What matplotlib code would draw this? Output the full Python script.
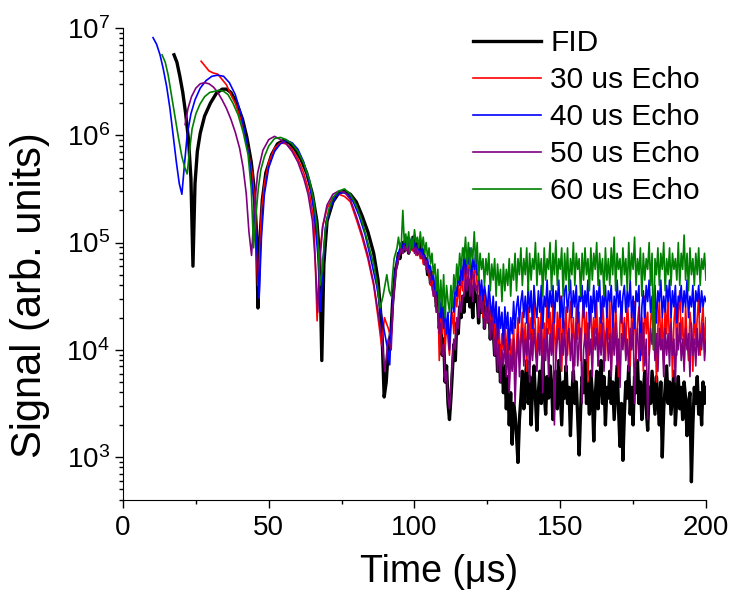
import numpy as np
import matplotlib
matplotlib.use("Agg")
import matplotlib.pyplot as plt
from matplotlib.ticker import LogLocator, MultipleLocator, NullFormatter

plt.rcParams['font.family'] = ['Liberation Sans', 'DejaVu Sans']
plt.rcParams['mathtext.fontset'] = 'custom'
plt.rcParams['mathtext.rm'] = 'Liberation Sans'
plt.rcParams['mathtext.default'] = 'regular'

# signal values are stored as log10(signal)

# early, smooth part of each trace
fid_t = [17.5, 18.5, 19.5, 20.5, 21.5, 22.5, 23.3, 24.0, 24.7, 25.5,
         26.5, 28, 30, 32, 34, 35.5, 37, 39, 41, 42.5,
         44, 45, 45.8, 46.3, 46.9, 47.8, 49, 51, 53, 55,
         57, 59, 61, 63, 65, 66.5, 67.5, 68.2, 68.9, 70,
         72, 74, 76, 78, 80, 82, 84, 86, 87.5, 88.8,
         89.6, 90.3, 91]
fid_log = [6.75, 6.68, 6.55, 6.4, 6.2, 5.95, 5.6, 4.78, 5.55, 5.85,
           6.02, 6.18, 6.3, 6.39, 6.43, 6.43, 6.4, 6.3, 6.15, 5.98,
           5.75, 5.5, 5.1, 4.39, 5.0, 5.4, 5.65, 5.82, 5.92, 5.95,
           5.93, 5.87, 5.78, 5.65, 5.45, 5.2, 4.85, 3.9, 4.8, 5.2,
           5.38, 5.46, 5.48, 5.45, 5.38, 5.25, 5.1, 4.9, 4.65, 4.2,
           3.56, 3.7, 4.0]

e30_t = [26.8, 28, 29.5, 31, 32.5, 34, 35.5, 37, 38.5, 40,
         41.5, 43, 44.3, 45.3, 46.2, 46.8, 47.5, 48.5, 50, 52,
         54, 56, 58, 60, 62, 64, 65.5, 66.6, 67.5, 68.5,
         70, 72, 74, 76, 78, 80, 82, 84, 86, 87.5,
         88.7, 89.7, 91]
e30_log = [6.69, 6.65, 6.6, 6.58, 6.57, 6.52, 6.47, 6.38, 6.3, 6.18,
           6.05, 5.85, 5.65, 5.35, 4.6, 4.85, 5.3, 5.55, 5.75, 5.88,
           5.93, 5.92, 5.87, 5.78, 5.65, 5.45, 5.2, 4.27, 4.9, 5.15,
           5.32, 5.42, 5.45, 5.43, 5.38, 5.22, 5.05, 4.85, 4.6, 4.3,
           4.04, 4.3, 4.2]

e40_t = [10.3, 11.5, 12.7, 13.8, 15, 16.1, 17.2, 18.3, 19.3, 20.2,
         21, 22, 23.3, 24.7, 26.5, 28.5, 30.5, 32.5, 34.5, 36.5,
         38.5, 40.5, 42, 43.5, 44.8, 45.8, 46.7, 47.5, 48.5, 50,
         52, 54, 56, 58, 60, 62, 64, 65.5, 66.8, 67.8,
         68.6, 69.5, 71, 73, 75, 77, 79, 81, 83, 85,
         87, 88.5, 89.8, 90.8, 91.5]
e40_log = [6.91, 6.85, 6.75, 6.62, 6.45, 6.25, 6.0, 5.75, 5.55, 5.45,
           5.7, 6.0, 6.2, 6.33, 6.44, 6.51, 6.55, 6.56, 6.55, 6.49,
           6.38, 6.2, 6.0, 5.75, 5.4, 5.0, 4.48, 5.05, 5.45, 5.7,
           5.85, 5.92, 5.95, 5.93, 5.87, 5.75, 5.55, 5.3, 4.9, 4.36,
           4.8, 5.15, 5.32, 5.43, 5.47, 5.45, 5.38, 5.25, 5.08, 4.85,
           4.6, 4.35, 4.15, 4.0, 3.86]

e50_t = [21.3, 22.3, 23.5, 25, 26.5, 28, 29.5, 31, 32.5, 34,
         35.5, 37, 38.5, 40, 41.2, 42.3, 43.2, 44.1, 45, 46.2,
         48, 50, 52, 54, 56, 58, 60, 62, 63.5, 65,
         66, 66.8, 67.6, 68.5, 70, 72, 74, 76, 78, 80,
         82, 84, 86, 87.5, 88.8, 89.8, 91]
e50_log = [6.1, 6.25, 6.36, 6.44, 6.48, 6.49, 6.48, 6.45, 6.4, 6.33,
           6.25, 6.15, 6.03, 5.88, 5.7, 5.45, 5.1, 4.88, 5.3, 5.65,
           5.86, 5.96, 5.99, 5.96, 5.92, 5.85, 5.75, 5.6, 5.45, 5.2,
           4.8, 4.35, 4.85, 5.15, 5.35, 5.45, 5.48, 5.47, 5.4, 5.25,
           5.08, 4.88, 4.62, 4.35, 4.1, 3.8, 4.1]

e60_t = [13.4, 14.5, 15.5, 16.6, 17.8, 19, 20.2, 21.2, 22, 22.8,
         23.7, 25, 26.4, 28, 29.8, 31.5, 33, 34.5, 36, 37.7,
         39.5, 41.2, 42.9, 44, 44.8, 45.6, 46.4, 47.3, 48.5, 50,
         52, 54, 56, 58, 60, 62, 64, 65.5, 66.7, 67.6,
         68.4, 69.3, 70.5, 72, 74, 76, 78, 80, 82, 84,
         86, 87.3, 88.2, 89.2, 90.5, 91.3]
e60_log = [6.75, 6.68, 6.56, 6.38, 6.18, 5.98, 5.8, 5.7, 5.64, 5.85,
           6.06, 6.2, 6.29, 6.36, 6.4, 6.41, 6.42, 6.41, 6.38, 6.3,
           6.19, 6.03, 5.82, 5.5, 4.95, 5.25, 5.5, 5.68, 5.8, 5.9,
           5.97, 5.98, 5.96, 5.92, 5.85, 5.74, 5.58, 5.38, 5.1, 4.6,
           4.75, 5.1, 5.3, 5.42, 5.48, 5.5, 5.45, 5.35, 5.2, 5.0,
           4.8, 4.6, 4.39, 4.5, 4.7, 4.55]

# noisy tail, sampled every 0.5 us from 92 to 200 us (10 samples per row)
t_tail = np.arange(92, 200.25, 0.5)
fid_tail = [4.2, 4.45, 4.6, 4.75, 4.8, 4.9, 4.85, 4.95, 5.0, 4.92,
            4.95, 5.03, 4.9, 5.0, 4.97, 5.05, 4.93, 5.0, 4.96, 4.9,
            5.0, 4.88, 4.93, 4.8, 4.85, 4.7, 4.78, 4.62, 4.72, 4.55,
            4.6, 4.4, 4.5, 4.2, 4.35, 3.95, 4.1, 3.7, 3.85, 3.5,
            3.35, 3.55, 3.8, 4.05, 3.9, 4.25, 4.15, 4.4, 4.3, 4.5,
            4.35, 4.6, 4.45, 4.65, 4.4, 4.55, 4.3, 4.6, 4.45, 4.5,
            4.25, 4.5, 4.35, 4.55, 4.2, 4.4, 4.3, 4.45, 4.1, 4.35,
            4.2, 3.95, 4.15, 3.8, 4.05, 3.7, 3.95, 3.6, 3.85, 3.45,
            3.75, 3.3, 3.6, 3.12, 3.5, 3.4, 3.2, 2.95, 3.35, 3.55,
            3.8, 3.45, 3.7, 3.9, 3.5, 3.75, 3.3, 3.65, 3.85, 3.55,
            3.25, 3.6, 3.8, 3.5, 3.95, 3.6, 3.4, 3.75, 3.55, 3.85,
            3.7, 3.35, 3.6, 3.8, 3.45, 3.9, 3.6, 3.3, 3.7, 3.55,
            3.85, 3.5, 3.65, 3.2, 3.6, 3.8, 3.5, 3.7, 3.35, 3.02,
            3.45, 3.75, 3.6, 3.9, 3.5, 3.7, 3.4, 3.8, 3.6, 3.15,
            3.55, 3.8, 3.45, 3.7, 3.9, 3.5, 3.75, 3.3, 3.65, 3.55,
            3.8, 3.5, 3.7, 3.35, 3.6, 3.85, 3.45, 3.1, 3.5, 2.97,
            3.4, 3.7, 3.55, 3.85, 3.4, 3.65, 3.3, 3.75, 3.6, 3.9,
            3.5, 3.7, 3.35, 3.6, 3.8, 3.45, 3.25, 3.65, 3.5, 3.8,
            3.6, 3.4, 3.75, 3.55, 3.3, 3.7, 3.0, 3.45, 3.65, 3.85,
            3.5, 3.7, 3.4, 3.6, 3.8, 3.3, 3.55, 3.75, 3.45, 3.65,
            3.35, 3.7, 3.55, 3.2, 3.5, 3.6, 2.77, 3.3, 3.65, 3.5,
            3.75, 3.4, 3.6, 3.3, 3.7, 3.5, 3.65]
e30_tail = [4.1, 4.4, 4.6, 4.7, 4.8, 4.85, 4.9, 4.95, 4.9, 5.0,
            4.93, 4.98, 4.9, 4.96, 5.0, 4.92, 4.95, 4.88, 4.97, 4.9,
            4.85, 4.92, 4.8, 4.88, 4.75, 4.82, 4.7, 4.6, 4.72, 4.5,
            4.6, 4.35, 4.55, 3.9, 4.3, 4.15, 4.4, 4.0, 4.25, 4.1,
            3.95, 4.2, 4.35, 4.15, 4.5, 4.4, 4.6, 4.45, 4.7, 4.55,
            4.85, 4.6, 4.8, 4.7, 4.9, 4.55, 4.75, 4.65, 4.85, 4.6,
            4.65, 4.4, 4.6, 4.3, 4.55, 4.45, 4.25, 4.5, 4.35, 4.2,
            4.45, 4.1, 4.3, 3.95, 4.25, 3.8, 4.15, 4.0, 4.3, 3.9,
            4.2, 3.7, 4.1, 3.85, 4.25, 3.75, 4.05, 4.3, 3.9, 4.15,
            4.35, 4.0, 4.25, 3.8, 4.4, 4.1, 4.3, 3.95, 4.45, 4.2,
            3.85, 4.3, 4.05, 4.4, 3.75, 4.25, 4.0, 4.5, 4.15, 4.35,
            4.0, 4.45, 4.2, 3.9, 4.35, 4.1, 4.5, 3.8, 4.3, 4.15,
            4.4, 3.95, 4.25, 4.45, 4.05, 4.3, 3.85, 4.4, 4.1, 4.35,
            3.9, 4.25, 4.5, 4.05, 4.35, 3.7, 4.2, 4.45, 4.0, 4.3,
            4.15, 4.45, 3.85, 4.3, 4.05, 4.5, 4.2, 3.9, 4.35, 4.1,
            4.45, 3.8, 4.3, 4.0, 4.4, 4.15, 3.75, 4.25, 4.45, 4.05,
            4.3, 3.95, 4.5, 4.2, 3.85, 4.35, 4.1, 4.45, 3.9, 4.25,
            4.4, 4.05, 4.3, 3.8, 4.5, 4.15, 4.35, 3.95, 4.25, 4.45,
            4.0, 4.35, 3.7, 4.2, 4.45, 4.05, 4.3, 3.9, 4.4, 4.15,
            4.5, 4.0, 4.3, 3.75, 4.25, 4.45, 3.95, 4.35, 4.55, 4.1,
            4.3, 3.85, 4.4, 4.1, 3.9, 4.35, 4.2, 3.8, 4.45, 4.05,
            4.3, 4.5, 3.95, 4.25, 4.4, 4.0, 4.3]
e40_tail = [4.2, 4.4, 4.6, 4.75, 4.85, 4.9, 4.95, 5.0, 4.93, 5.02,
            4.97, 5.05, 4.95, 5.0, 5.04, 4.96, 5.0, 4.92, 4.98, 4.93,
            4.9, 4.95, 4.85, 4.88, 4.8, 4.85, 4.72, 4.78, 4.65, 4.7,
            4.55, 4.65, 4.4, 4.55, 4.3, 4.5, 4.2, 4.4, 4.15, 4.35,
            4.0, 4.3, 4.5, 4.35, 4.6, 4.5, 4.7, 4.6, 4.8, 4.65,
            4.95, 4.7, 4.9, 4.8, 4.95, 4.65, 4.85, 4.75, 4.9, 4.7,
            4.7, 4.5, 4.65, 4.45, 4.6, 4.5, 4.35, 4.6, 4.45, 4.3,
            4.5, 4.25, 4.45, 4.1, 4.4, 4.2, 4.35, 4.05, 4.4, 4.2,
            4.35, 4.0, 4.3, 4.15, 4.45, 4.2, 4.4, 4.5, 4.25, 4.45,
            4.55, 4.3, 4.5, 4.25, 4.6, 4.35, 4.55, 4.2, 4.6, 4.4,
            4.3, 4.55, 4.35, 4.6, 4.2, 4.5, 4.4, 4.65, 4.3, 4.55,
            4.4, 4.6, 4.25, 4.55, 4.45, 4.65, 4.3, 4.5, 4.2, 4.55,
            4.6, 4.35, 4.5, 4.65, 4.3, 4.55, 4.4, 4.6, 4.25, 4.5,
            4.45, 4.6, 4.3, 4.55, 4.4, 4.65, 4.2, 4.5, 4.35, 4.6,
            4.3, 4.55, 4.45, 4.65, 4.25, 4.5, 4.4, 4.6, 4.3, 4.55,
            4.45, 4.6, 4.2, 4.5, 4.35, 4.65, 4.4, 4.55, 4.25, 4.5,
            4.6, 4.35, 4.55, 4.4, 4.65, 4.3, 4.5, 4.2, 4.55, 4.45,
            4.6, 3.9, 4.4, 4.55, 4.3, 4.6, 4.45, 4.65, 4.35, 4.5,
            4.4, 4.6, 4.25, 4.55, 4.45, 4.65, 4.3, 4.5, 4.35, 4.6,
            4.45, 4.65, 4.3, 4.55, 4.4, 4.6, 4.25, 4.5, 4.45, 4.6,
            4.35, 4.55, 4.4, 4.65, 4.3, 4.5, 4.4, 4.6, 4.25, 4.55,
            4.45, 4.6, 4.35, 4.55, 4.4, 4.5, 4.45]
e50_tail = [4.0, 4.35, 4.55, 4.7, 4.8, 4.85, 4.9, 4.95, 4.9, 4.97,
            4.92, 5.0, 4.9, 4.96, 4.93, 4.98, 4.9, 4.95, 4.88, 4.92,
            4.9, 4.85, 4.88, 4.8, 4.83, 4.72, 4.75, 4.65, 4.6, 4.5,
            4.55, 4.35, 4.4, 4.15, 4.25, 3.95, 4.05, 3.7, 3.8, 3.55,
            3.45, 3.65, 3.9, 4.1, 4.0, 4.3, 4.2, 4.45, 4.35, 4.5,
            4.5, 4.7, 4.55, 4.75, 4.5, 4.65, 4.45, 4.7, 4.55, 4.6,
            4.3, 4.5, 4.35, 4.45, 4.2, 4.4, 4.25, 4.35, 4.1, 4.3,
            4.15, 3.95, 4.2, 3.8, 4.05, 3.7, 4.0, 3.85, 4.1, 3.75,
            4.05, 3.6, 3.95, 3.8, 4.1, 3.5, 3.9, 4.15, 3.75, 4.05,
            4.2, 3.85, 4.1, 3.95, 4.25, 3.7, 4.15, 3.9, 4.2, 4.0,
            3.8, 4.15, 3.95, 4.25, 3.6, 4.1, 3.9, 4.2, 3.75, 4.15,
            3.95, 4.25, 3.3, 3.9, 4.1, 4.2, 3.85, 4.15, 3.95, 4.25,
            3.8, 4.1, 4.2, 3.9, 4.15, 3.7, 4.05, 4.25, 3.85, 4.1,
            4.2, 3.5, 4.0, 4.15, 3.9, 4.25, 3.95, 4.1, 3.75, 4.2,
            4.0, 4.2, 3.85, 4.15, 3.95, 4.25, 3.8, 4.1, 4.2, 3.9,
            4.15, 3.75, 4.2, 3.95, 4.25, 3.85, 4.1, 3.65, 4.15, 4.0,
            4.25, 3.9, 4.1, 3.8, 4.2, 4.0, 4.25, 3.5, 4.05, 4.2,
            3.9, 4.15, 3.95, 4.25, 3.85, 4.1, 3.35, 3.95, 4.2, 4.05,
            4.25, 3.9, 4.15, 3.8, 4.2, 4.0, 4.1, 3.75, 4.2, 3.95,
            4.15, 3.85, 4.25, 3.95, 4.1, 3.7, 4.2, 4.0, 4.25, 3.9,
            4.1, 3.8, 4.2, 4.0, 4.15, 3.75, 4.25, 3.95, 4.1, 3.85,
            4.2, 3.95, 4.15, 4.0, 4.25, 3.9, 4.1]
e60_tail = [4.5, 4.7, 4.85, 4.9, 4.95, 5.05, 4.95, 5.0, 5.3, 5.0,
            5.08, 4.95, 5.1, 4.92, 5.05, 4.95, 5.12, 5.0, 5.05, 4.95,
            5.1, 4.95, 5.05, 4.9, 5.0, 4.85, 4.95, 4.8, 4.9, 4.7,
            4.8, 4.55, 4.75, 4.35, 4.65, 4.4, 4.7, 4.3, 4.6, 4.45,
            4.35, 4.6, 4.4, 4.7, 4.55, 4.8, 4.65, 4.9, 4.75, 4.95,
            4.85, 5.05, 4.8, 5.0, 4.75, 4.95, 4.85, 5.1, 4.8, 5.0,
            4.65, 4.9, 4.75, 4.85, 4.6, 4.85, 4.7, 4.9, 4.55, 4.8,
            4.65, 4.85, 4.5, 4.8, 4.6, 4.75, 4.45, 4.8, 4.55, 4.75,
            4.6, 4.85, 4.5, 4.8, 4.65, 4.9, 4.55, 4.85, 4.7, 4.95,
            4.6, 4.85, 4.7, 4.95, 4.55, 4.9, 4.65, 4.85, 4.75, 5.0,
            4.6, 4.9, 4.7, 4.85, 4.5, 4.95, 4.65, 4.85, 4.75, 5.0,
            4.55, 4.9, 4.7, 5.02, 4.6, 4.85, 4.75, 4.95, 4.5, 4.9,
            4.65, 4.95, 4.55, 4.85, 4.7, 5.0, 4.6, 4.9, 4.75, 4.85,
            4.5, 4.9, 4.65, 4.95, 4.7, 4.85, 4.55, 4.95, 4.65, 4.9,
            4.75, 5.0, 4.6, 4.9, 4.7, 4.85, 4.5, 4.95, 4.65, 4.85,
            4.6, 4.95, 4.7, 5.05, 4.55, 4.9, 4.75, 4.85, 4.6, 4.95,
            4.7, 4.85, 4.55, 5.0, 4.65, 4.9, 4.75, 5.05, 4.6, 4.85,
            4.7, 4.95, 4.5, 4.9, 4.65, 4.85, 4.75, 5.0, 4.6, 4.9,
            4.0, 4.85, 4.7, 4.95, 4.6, 4.9, 4.75, 5.0, 4.55, 4.85,
            4.7, 4.95, 4.6, 4.9, 4.75, 4.85, 4.65, 5.0, 4.6, 4.9,
            4.75, 5.07, 4.65, 4.9, 4.55, 4.95, 4.7, 4.85, 4.6, 4.9,
            4.7, 4.95, 4.6, 4.85, 4.75, 4.9, 4.65]

labels = ["FID", "30 us Echo", "40 us Echo", "50 us Echo", "60 us Echo"]
colors = ["black", "#ff0000", "#0000ff", "#800080", "#008000"]
widths = [2.4, 1.2, 1.2, 1.2, 1.2]

series = [(fid_t, fid_log, fid_tail),
          (e30_t, e30_log, e30_tail),
          (e40_t, e40_log, e40_tail),
          (e50_t, e50_log, e50_tail),
          (e60_t, e60_log, e60_tail)]

fig = plt.figure(figsize=(7.30, 5.97), dpi=100)
ax = fig.add_axes([0.1685, 0.1625, 0.7986, 0.7906])

for (t_head, log_head, log_tail), lab, c, lw in zip(series, labels, colors, widths):
    t = np.concatenate([t_head, t_tail])
    y = 10 ** np.concatenate([log_head, log_tail])
    ax.plot(t, y, color=c, lw=lw, label=lab)

ax.set_yscale('log')
ax.set_xlim(0, 200)
ax.set_ylim(10 ** 2.6, 1e7)

ax.xaxis.set_major_locator(MultipleLocator(50))
ax.xaxis.set_minor_locator(MultipleLocator(25))
ax.yaxis.set_major_locator(LogLocator(base=10, numticks=10))
ax.yaxis.set_minor_locator(LogLocator(base=10, subs=np.arange(2, 10), numticks=20))
ax.yaxis.set_minor_formatter(NullFormatter())

for s in ['top', 'right']:
    ax.spines[s].set_visible(False)

ax.tick_params(which='major', direction='out', length=6, width=1, labelsize=20)
ax.tick_params(which='minor', direction='out', length=3, width=1)
ax.tick_params(axis='x', which='major', pad=5)

ax.set_xlabel("Time (μs)", fontsize=27)
ax.set_ylabel("Signal (arb. units)", fontsize=30)
ax.xaxis.set_label_coords(0.542, -0.115)
ax.yaxis.set_label_coords(-0.125, 0.435)

ax.legend(loc='upper left', bbox_to_anchor=(0.6, 0.997), frameon=False,
          fontsize=21.5, handlelength=2.3, labelspacing=0.3,
          handletextpad=0.3, borderpad=0, borderaxespad=0)

fig.savefig("out.png", dpi=100)
